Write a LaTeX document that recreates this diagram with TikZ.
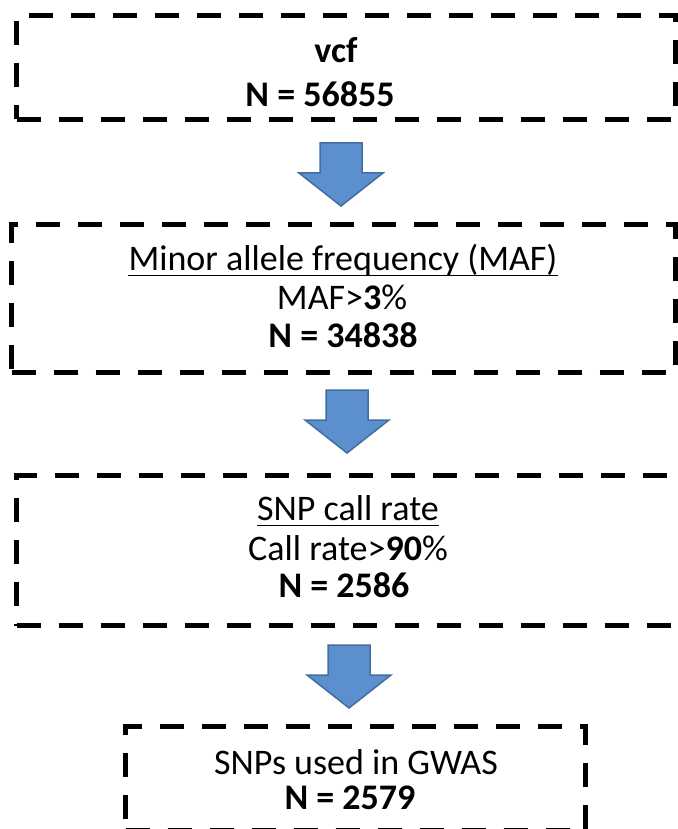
\documentclass[tikz,border=0pt]{standalone}
\usepackage{fontspec}
\setmainfont{Carlito}
\usetikzlibrary{calc}
\definecolor{arrowfill}{RGB}{91,143,205}
\definecolor{arrowedge}{RGB}{65,110,160}
\begin{document}
\begin{tikzpicture}[x=1pt,y=-1pt,
  dbox/.style={draw=black, line width=5pt, dash pattern=on 24pt off 18pt, inner sep=0pt, anchor=north west},
  txt/.style={anchor=base, inner sep=0pt, font=\fontsize{36}{40}\selectfont},
  uline/.style={line width=1.8pt},
  barrow/.style={fill=arrowfill, draw=arrowedge, line width=1.5pt, line join=miter},
  blockarrow/.pic={\draw[barrow] (-21,0) -- (21,0) -- (21,30) -- (42,30) -- (0,63) -- (-42,30) -- (-21,30) -- cycle;}]
\useasboundingbox (0,0) rectangle (677,829);
% boxes
\node[dbox, minimum width=659pt, minimum height=104pt] (b1) at (14,13) {};
\node[dbox, minimum width=664pt, minimum height=148pt] (b2) at (9,222) {};
\node[dbox, minimum width=670pt, minimum height=150pt] (b3) at (14,473) {};
\node[dbox, minimum width=460pt, minimum height=104pt] (b4) at (123,724) {};
% texts
\node[txt] (t11) at (336,63) {\bfseries vcf};
\node[txt] (t12) at (320,107) {\bfseries N = 56855};
\node[txt] (t21) at (343,270) {Minor allele frequency (MAF)};
\node[txt] (t22) at (342,309) {MAF>\textbf{3}\%};
\node[txt] (t23) at (343,347) {\bfseries N = 34838};
\node[txt] (t31) at (348,520) {SNP call rate};
\node[txt] (t32) at (348,560) {Call rate>\textbf{90}\%};
\node[txt] (t33) at (344,597) {\bfseries N = 2586};
\node[txt] (t41) at (356,774) {SNPs used in GWAS};
\node[txt] (t42) at (350,809) {\bfseries N = 2579};
\draw[uline] ($(t21.base west)+(0,5.5)$) -- ($(t21.base east)+(0,5.5)$);
\draw[uline] ($(t31.base west)+(0,5.5)$) -- ($(t31.base east)+(0,5.5)$);
% block arrows
\pic (a1) at (341,143) {blockarrow};
\pic (a2) at (347,390) {blockarrow};
\pic (a3) at (349,645) {blockarrow};
\end{tikzpicture}
\end{document}
